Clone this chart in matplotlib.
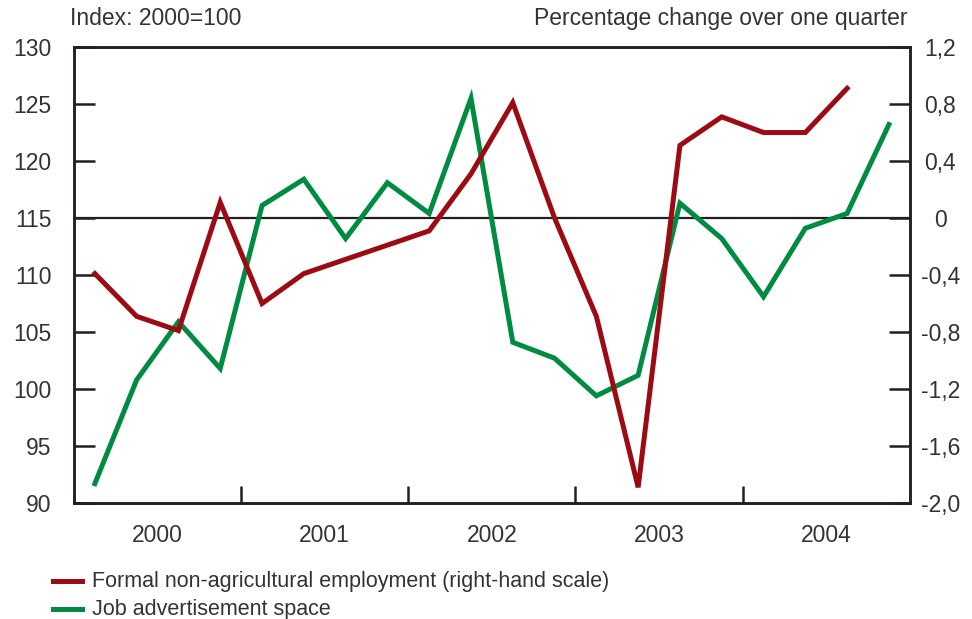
import numpy as np
import matplotlib
matplotlib.use("Agg")
import matplotlib.pyplot as plt

plt.rcParams['font.family'] = ['Liberation Sans', 'DejaVu Sans']

years = ['2000', '2001', '2002', '2003', '2004']

# job advertisement space, index 2000=100 (left scale), quarterly 2000Q1-2004Q4
job_ads = [91.7, 100.8, 105.9, 101.8, 116.1, 118.4, 113.2, 118.1, 115.4, 125.5,
           104.1, 102.7, 99.4, 101.2, 116.3, 113.2, 108.1, 114.1, 115.4, 123.2]

# formal non-agricultural employment, % change q/q (right scale), 2000Q1-2004Q3
employment = [-0.39, -0.69, -0.79, 0.11, -0.60, -0.39, -0.29, -0.19, -0.09, 0.31,
              0.81, 0.0, -0.69, -1.89, 0.51, 0.71, 0.60, 0.60, 0.91]

left_ticks = [90, 95, 100, 105, 110, 115, 120, 125, 130]
right_ticks = [-2.0, -1.6, -1.2, -0.8, -0.4, 0, 0.4, 0.8, 1.2]
right_labels = ['-2,0', '-1,6', '-1,2', '-0,8', '-0,4', '0', '0,4', '0,8', '1,2']

red = '#9c0b13'
green = '#008c40'
dark = '#231f20'
txt = '#333333'

fig = plt.figure(figsize=(9.72, 6.19), dpi=100)
ax = fig.add_axes([0.0761, 0.1874, 0.8599, 0.7366])
ax2 = ax.twinx()

x_job = np.arange(len(job_ads))
x_emp = np.arange(len(employment))

ax.axhline(115, color=dark, lw=1.6, zorder=1)
ax.plot(x_job, job_ads, color=green, lw=3.6, solid_joinstyle='miter', zorder=3)
ax2.plot(x_emp, employment, color=red, lw=3.6, solid_joinstyle='miter', zorder=3)

ax.set_xlim(-0.5, 19.5)
ax.set_ylim(90, 130)
ax2.set_ylim(-2.0, 1.2)

ax.set_yticks(left_ticks)
ax.set_yticklabels([str(v) for v in left_ticks])
ax2.set_yticks(right_ticks)
ax2.set_yticklabels(right_labels)

ax.set_xticks([3.5, 7.5, 11.5, 15.5])
ax.set_xticklabels([])
ax.set_xticks([1.5, 5.5, 9.5, 13.5, 17.5], minor=True)
ax.set_xticklabels(years, minor=True)

ax.tick_params(axis='y', direction='in', length=15, width=1.8, color=dark,
               labelsize=16.5, labelcolor=txt, pad=16)
ax2.tick_params(axis='y', direction='in', length=15, width=1.8, color=dark,
                labelsize=16.5, labelcolor=txt, pad=22)
ax.tick_params(axis='x', which='major', direction='in', length=12, width=1.8, color=dark)
ax.tick_params(axis='x', which='minor', length=0, labelsize=16.5, labelcolor=txt, pad=15)
for lab in ax2.get_yticklabels():
    lab.set_horizontalalignment('center')

for a in (ax, ax2):
    for s in a.spines.values():
        s.set_color(dark)
        s.set_linewidth(1.8)

fig.text(0.072, 0.952, 'Index: 2000=100', fontsize=16.5, color=txt, ha='left', va='bottom')
fig.text(0.934, 0.952, 'Percentage change over one quarter', fontsize=16.5, color=txt,
         ha='right', va='bottom')

# legend
fig.lines.append(plt.Line2D([0.055, 0.084], [0.061, 0.061], transform=fig.transFigure,
                            color=red, lw=3.6))
fig.lines.append(plt.Line2D([0.055, 0.084], [0.016, 0.016], transform=fig.transFigure,
                            color=green, lw=3.6))
fig.text(0.095, 0.061, 'Formal non-agricultural employment (right-hand scale)', fontsize=15.5,
         color=txt, ha='left', va='center')
fig.text(0.095, 0.016, 'Job advertisement space', fontsize=15.5, color=txt,
         ha='left', va='center')

fig.savefig('out.png', dpi=100)
